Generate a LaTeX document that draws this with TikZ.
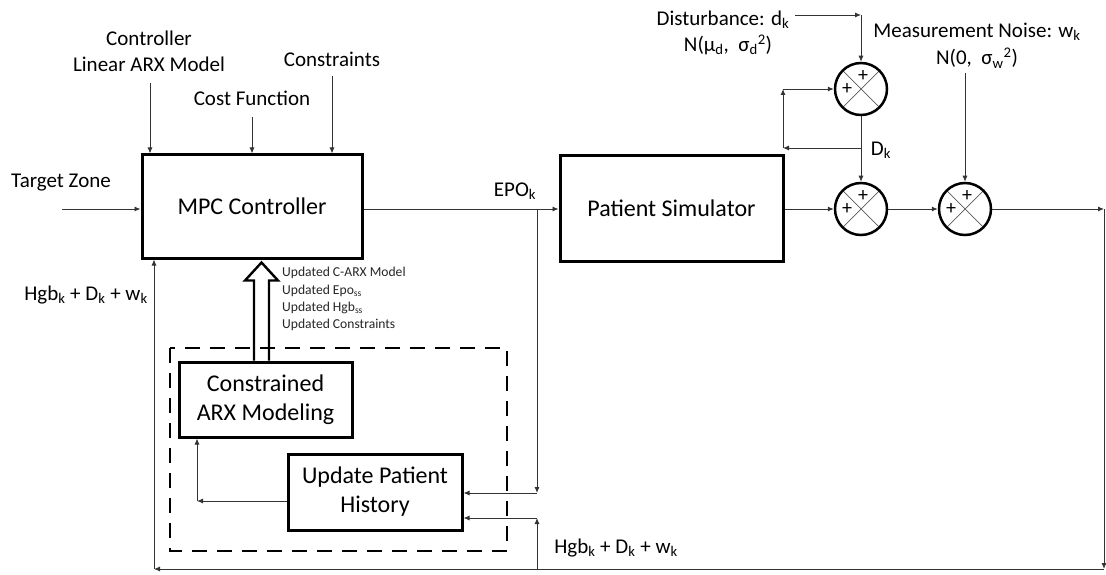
\documentclass[tikz,border=0pt]{standalone}
\usepackage{fontspec}
\setmainfont{Carlito}
\usetikzlibrary{arrows.meta,calc}

\begin{document}
\begin{tikzpicture}[x=1pt,y=-1pt,
  wire/.style={line width=0.9pt, draw=black!80},
  arr/.style={wire, -{Latex[length=6pt,width=5pt]}},
  block/.style={draw, line width=3pt, align=center, inner sep=0pt,
    font=\fontsize{24}{29}\selectfont},
  lbl/.style={font=\fontsize{21}{26}\selectfont, align=center, inner sep=0pt},
  small/.style={font=\fontsize{13.6}{17.4}\selectfont, align=left, inner sep=0pt, text=black!85},
  sumnode/.style={circle, draw, line width=2.5pt, minimum size=52pt, inner sep=0pt,
    path picture={\draw[black!65,line width=0.7pt]
      (path picture bounding box.north west) -- (path picture bounding box.south east)
      (path picture bounding box.north east) -- (path picture bounding box.south west);}},
  plus/.style={font=\fontsize{20}{20}\selectfont, inner sep=0pt},
  groupbox/.style={draw, line width=2.6pt, dash pattern=on 15pt off 10pt}
]
\useasboundingbox (0,0) rectangle (1106,575);

% main blocks
\node[block, minimum width=220pt, minimum height=103pt] (mpc) at (252,206.5) {MPC Controller};
\node[block, minimum width=223pt, minimum height=105pt] (ps) at (671.5,208.5) {Patient Simulator};
\node[block, minimum width=173pt, minimum height=75pt] (carx) at (265.5,399.5) {Constrained\\ARX Modeling};
\node[block, minimum width=174pt, minimum height=76pt] (uph) at (375,492) {Update Patient\\History};

% dashed group around the identification loop
\draw[groupbox] (170,348) rectangle (507,551);

% summing junctions
\node[sumnode] (sA) at (861,89) {};
\node[sumnode] (sB) at (861,209) {};
\node[sumnode] (sC) at (965,209) {};
\foreach \s in {sA,sB,sC}{
  \node[plus] (\s-top) at ($(\s)+(2,-13)$) {+};
  \node[plus] (\s-left) at ($(\s)+(-14,0)$) {+};
}

% labels
\node[lbl] (ctrlmodel) at (149,51) {Controller\\Linear ARX Model};
\node[lbl] (cost) at (252,98) {Cost Function};
\node[lbl] (cons) at (332,59) {Constraints};
\node[lbl] (tz) at (61,183) {Target Zone};
\node[lbl] (epolbl) at (515,191) {EPO\textsubscript{k}};
\node[lbl] (hgbl) at (86,295) {Hgb\textsubscript{k} + D\textsubscript{k} + w\textsubscript{k}};
\node[lbl] (hgbb) at (616,548) {Hgb\textsubscript{k} + D\textsubscript{k} + w\textsubscript{k}};
\node[lbl] (dist) at (723,20) {Disturbance: d\textsubscript{k}};
\node[lbl] (distn) at (728,45) {N(μ\textsubscript{d},\ \ σ\textsubscript{d}\textsuperscript{2})};
\node[lbl] (noise) at (977,32) {Measurement Noise: w\textsubscript{k}};
\node[lbl] (noisen) at (977,58) {N(0,\ \ σ\textsubscript{w}\textsuperscript{2})};
\node[lbl] (dklbl) at (881,150) {D\textsubscript{k}};
\node[small, anchor=north west] (upd) at (282,267)
  {Updated C-ARX Model\\Updated Epo\textsubscript{ss}\\Updated Hgb\textsubscript{ss}\\Updated Constraints};

% free ends and corners of the wiring
\coordinate (tzin) at (62,209);
\coordinate (cm) at (150,83);
\coordinate (cf) at (252,117);
\coordinate (cs) at (332,76);
\coordinate (epo) at (537,209);
\coordinate (epodn) at (537,493);
\coordinate (fbin) at (537,518);
\coordinate (fbb) at (537,569);
\coordinate (tr) at (1104,209);
\coordinate (br) at (1104,569);
\coordinate (bl) at (154,569);
\coordinate (hl) at (197,501);
\coordinate (dsrc) at (795,15);
\coordinate (dcorner) at (861,15);
\coordinate (dk) at (861,148);
\coordinate (loopb) at (783,148);
\coordinate (loopt) at (783,89);
\coordinate (nsrc) at (965,73);

% controller inputs
\draw[arr] (tzin) -- (tzin -| mpc.west);
\draw[arr] (cm) -- (cm |- mpc.north);
\draw[arr] (cf) -- (cf |- mpc.north);
\draw[arr] (cs) -- (cs |- mpc.north);

% control signal to the simulator and to the history block
\draw[arr] (epo -| mpc.east) -- (epo -| ps.west);
\draw[arr] (epo) -- (epodn);
\draw[arr] (epodn) -- (epodn -| uph.east);

% disturbance path
\draw[arr] (dsrc) -- (dcorner);
\draw[arr] (dcorner) -- (sA.north);
\draw[arr] (sA.south) -- (sB.north);
\draw[arr] (dk) -- (loopb);
\draw[arr] (loopb) -- (loopt);
\draw[arr] (loopt) -- (sA.west);

% plant output, noise and feedback
\draw[arr] (epo -| ps.east) -- (sB.west);
\draw[arr] (sB.east) -- (sC.west);
\draw[arr] (nsrc) -- (sC.north);
\draw[arr] (sC.east) -- (tr);
\draw[arr] (tr) -- (br);
\draw[arr] (br) -- (bl);
\draw[arr] (bl) -- (bl |- mpc.south);
\draw[arr] (fbb) -- (fbin);
\draw[arr] (fbin) -- (fbin -| uph.east);

% history to model identification
\draw[arr] (hl -| uph.west) -- (hl);
\draw[arr] (hl) -- (hl |- carx.south);

% hollow update arrow from the identification block to the controller
\draw[line width=2.4pt, line join=miter]
  ($(carx.north)+(-11.5,0)$) -- ++(0,-80) -- ++(-9,0) -- ++(16.5,-18)
  -- ++(16.5,18) -- ++(-9,0) -- ($(carx.north)+(3.5,0)$);
\end{tikzpicture}
\end{document}
